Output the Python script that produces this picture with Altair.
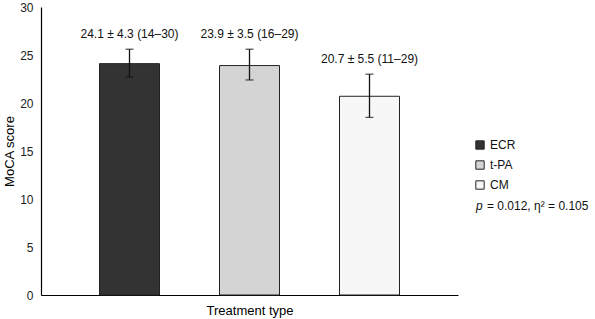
import altair as alt
import pandas as pd

groups = ["ECR", "t-PA", "CM"]
means = [24.1, 23.9, 20.7]
err_lo = [22.7, 22.4, 18.5]
err_hi = [25.6, 25.6, 23.0]
labels = ["24.1 ± 4.3 (14–30)", "23.9 ± 3.5 (16–29)", "20.7 ± 5.5 (11–29)"]
colors = ["#333333", "#d4d4d4", "#f7f7f7"]
y_ticks = [0, 5, 10, 15, 20, 25, 30]
Y_TITLE = "MoCA score"

df = pd.DataFrame({"group": groups, "mean": means, "lo": err_lo, "hi": err_hi, "label": labels})

FONT = "Liberation Sans"

x = alt.X("group:N", sort=groups, title="Treatment type",
          scale=alt.Scale(paddingInner=0.5, paddingOuter=0.4875),
          axis=alt.Axis(labels=False, ticks=False, domainColor="#000", domainWidth=1.2,
                        titleFont=FONT, titleFontSize=13, titleFontWeight="normal",
                        titleColor="#000", titlePadding=9))

bars = alt.Chart(df).mark_bar(stroke="#222", strokeWidth=1).encode(
    x=x,
    y=alt.Y("mean:Q", title=Y_TITLE,
            scale=alt.Scale(domain=[0, 30], nice=False),
            axis=alt.Axis(values=y_ticks, ticks=False, grid=False, domainColor="#000",
                          domainWidth=1.2, labelFont=FONT, labelFontSize=12,
                          labelColor="#222", labelPadding=8,
                          titleFont=FONT, titleFontSize=13, titleFontWeight="normal",
                          titleColor="#000", titlePadding=3)),
    color=alt.Color("group:N", sort=groups,
                    scale=alt.Scale(domain=groups, range=colors),
                    legend=alt.Legend(title=None, orient="none", legendX=433, legendY=132,
                                      symbolType="square", symbolSize=70,
                                      symbolStrokeColor="#222", symbolStrokeWidth=1,
                                      labelFont=FONT, labelFontSize=12, labelColor="#111",
                                      rowPadding=6, symbolOpacity=1)),
)

errs = alt.Chart(df).mark_errorbar(ticks=alt.MarkConfig(size=8, color="#111", strokeWidth=1.3),
                                   color="#111", thickness=1.3).encode(
    x=alt.X("group:N", sort=groups),
    y=alt.Y("lo:Q", title=Y_TITLE),
    y2="hi:Q",
)

texts = alt.Chart(df).mark_text(font=FONT, fontSize=12, color="#111", baseline="bottom", dy=-8).encode(
    x=alt.X("group:N", sort=groups),
    y=alt.Y("hi:Q", title=Y_TITLE),
    text="label:N",
)

stat_df = pd.DataFrame({"t": ["p"], "r": ["= 0.012, η² = 0.105"]})
p_txt = alt.Chart(stat_df).mark_text(font=FONT, fontSize=12, fontStyle="italic", align="left",
                                      color="#111", baseline="middle").encode(
    x=alt.value(435), y=alt.value(199), text="t:N")
rest_txt = alt.Chart(stat_df).mark_text(font=FONT, fontSize=12, align="left",
                                         color="#111", baseline="middle").encode(
    x=alt.value(446), y=alt.value(199), text="r:N")

chart = alt.layer(bars, errs, texts, p_txt, rest_txt).properties(
    width=417, height=288,
    padding={"left": 41, "top": 7, "right": 137, "bottom": 24},
    autosize=alt.AutoSizeParams(type="none"),
).configure_view(stroke=None)

chart.save("out.html", embed_options={"renderer": "svg", "actions": False})
